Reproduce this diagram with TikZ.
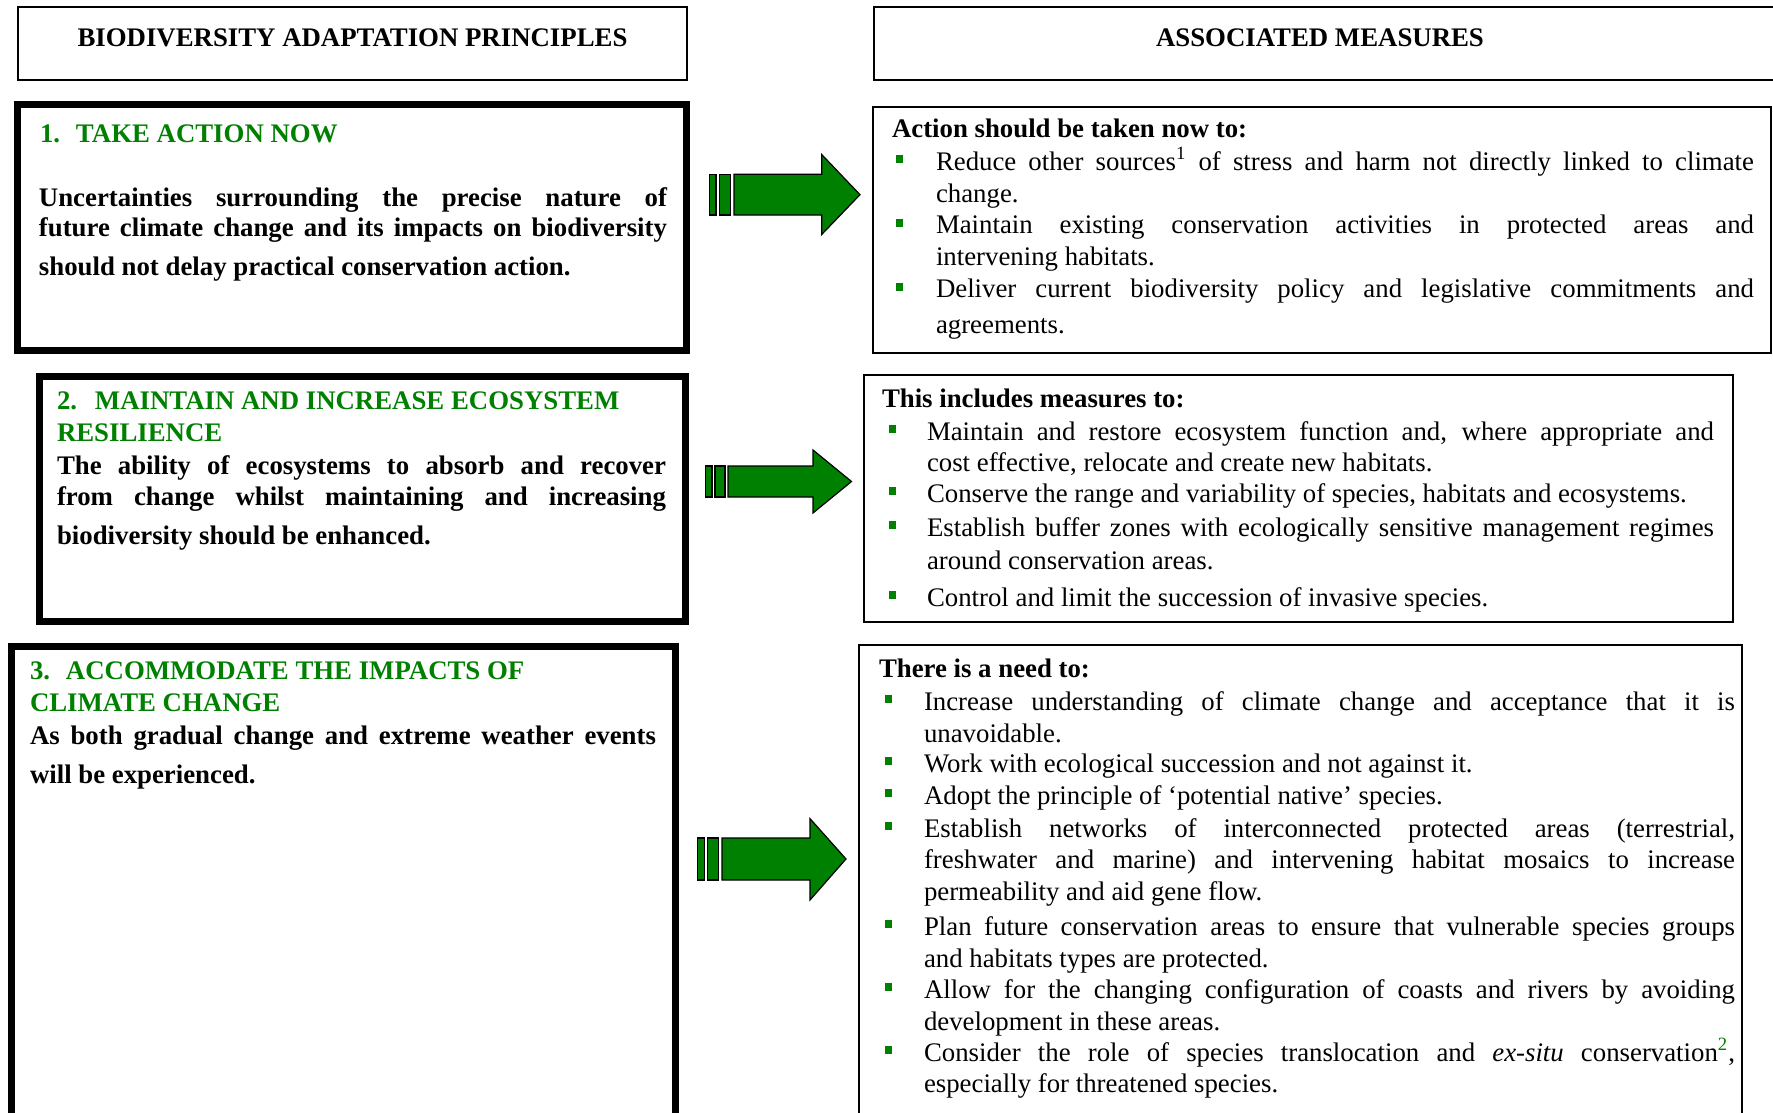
\documentclass[tikz,border=0pt]{standalone}
\usepackage{fontspec}
\setmainfont{Liberation Serif}
\definecolor{tgreen}{RGB}{0,128,0}
\tikzset{
  thinbox/.style={draw=black, line width=1pt, rectangle, inner sep=0pt, outer sep=0pt, anchor=north west},
  thickbox/.style={draw=black, line width=3.5pt, rectangle, inner sep=0pt, outer sep=0pt, anchor=north west},
  txt/.style={anchor=base west, inner sep=0pt, outer sep=0pt},
  gtxt/.style={txt, text=tgreen},
  ctxt/.style={anchor=base, inner sep=0pt, outer sep=0pt},
  bulnode/.style={fill=tgreen, rectangle, inner sep=0pt, outer sep=0pt, minimum width=3.5pt, minimum height=4pt},
  arrowpart/.style={draw=black, fill=tgreen, line width=0.6pt, line join=miter},
}
\newcommand\bodyfont[1]{\fontsize{13.4pt}{#1}\selectfont}
\newcommand\boldfont[1]{\bfseries\fontsize{13.4pt}{#1}\selectfont}
\newcommand\titlefont{\bfseries\fontsize{13.4pt}{16pt}\selectfont}
% \mkbox{style}{name}{x1}{y1}{x2}{y2}
\newcommand\mkbox[6]{\node[#1, minimum width={(#5-#3)*0.5pt}, minimum height={(#6-#4)*0.5pt}] (#2) at (#3,#4) {};}
\newcommand\bul[3]{\node[bulnode] (#1) at (#2,#3-11) {};}
\begin{document}
\begin{tikzpicture}[x=0.5pt,y=-0.5pt]
\useasboundingbox (0,0) rectangle (1773,1113);

% header boxes
\mkbox{thinbox}{hl}{18}{7}{687}{80}
\mkbox{thinbox}{hr}{874}{7}{1800}{80}
\node[ctxt] (hlt) at (352.5,47) {\boldfont{16pt}BIODIVERSITY ADAPTATION PRINCIPLES};
\node[ctxt] (hrt) at (1320,47) {\boldfont{16pt}ASSOCIATED MEASURES};

% left boxes
\mkbox{thickbox}{l1}{17.5}{104.5}{686.5}{350.5}
\mkbox{thickbox}{l2}{39}{376}{685}{621}
\mkbox{thickbox}{l3}{11}{646}{675}{1140}

% right boxes
\mkbox{thinbox}{r1}{873}{107}{1771}{353}
\mkbox{thinbox}{r2}{864}{375}{1733}{622}
\mkbox{thinbox}{r3}{859}{645}{1742}{1140}

% ---- box 1 left
\node[gtxt] (l1t) at (40,142) {\titlefont\makebox[18pt][l]{1.}TAKE ACTION NOW};
\node[txt] (l1b) at (39,206) {\parbox[t]{314pt}{\boldfont{15pt}Uncertainties surrounding the precise nature of\linebreak future climate change and its impacts on biodiversity\vadjust{\vskip 4.5pt}\linebreak should not delay practical conservation action.}};

% ---- box 2 left
\node[gtxt] (l2t) at (57,409) {\parbox[t]{320pt}{\raggedright\titlefont\makebox[19pt][l]{2.}MAINTAIN AND INCREASE ECOSYSTEM\\RESILIENCE}};
\node[txt] (l2b) at (57,474) {\parbox[t]{304.5pt}{\boldfont{15.5pt}The ability of ecosystems to absorb and recover\linebreak from change whilst maintaining and increasing\vadjust{\vskip 4pt}\linebreak biodiversity should be enhanced.}};

% ---- box 3 left
\node[gtxt] (l3t) at (30,679) {\parbox[t]{320pt}{\raggedright\titlefont\makebox[18pt][l]{3.}ACCOMMODATE THE IMPACTS OF\\CLIMATE CHANGE}};
\node[txt] (l3b) at (30,744) {\parbox[t]{313pt}{\boldfont{19.5pt}As both gradual change and extreme weather events\linebreak will be experienced.}};

% ---- box 1 right
\node[txt] (r1h) at (892,138) {\boldfont{16pt}Action should be taken now to:};
\bul{r1b1}{899.5}{170}
\node[txt] (r1i1) at (936,170) {\parbox[t]{409pt}{\bodyfont{16pt}Reduce other sources\textsuperscript{1} of stress and harm not directly linked to climate\linebreak change.}};
\bul{r1b2}{899.5}{234}
\node[txt] (r1i2) at (936,234) {\parbox[t]{409pt}{\bodyfont{16pt}Maintain existing conservation activities in protected areas and\linebreak intervening habitats.}};
\bul{r1b3}{899.5}{297.5}
\node[txt] (r1i3) at (936,297.5) {\parbox[t]{409pt}{\bodyfont{18pt}Deliver current biodiversity policy and legislative commitments and\linebreak agreements.}};

% ---- box 2 right
\node[txt] (r2h) at (882,407) {\boldfont{16pt}This includes measures to:};
\bul{r2b1}{892.5}{440}
\node[txt] (r2i1) at (927,440) {\parbox[t]{393.5pt}{\bodyfont{15.8pt}Maintain and restore ecosystem function and, where appropriate and\linebreak cost effective, relocate and create new habitats.}};
\bul{r2b2}{892.5}{502}
\node[txt] (r2i2) at (927,502) {\parbox[t]{393.5pt}{\bodyfont{16pt}Conserve the range and variability of species, habitats and ecosystems.}};
\bul{r2b3}{892.5}{536}
\node[txt] (r2i3) at (927,536) {\parbox[t]{393.5pt}{\bodyfont{16.5pt}Establish buffer zones with ecologically sensitive management regimes\linebreak around conservation areas.}};
\bul{r2b4}{892.5}{606}
\node[txt] (r2i4) at (927,606) {\parbox[t]{393.5pt}{\bodyfont{16pt}Control and limit the succession of invasive species.}};

% ---- box 3 right
\node[txt] (r3h) at (879,677) {\boldfont{16pt}There is a need to:};
\bul{r3b1}{888.5}{710}
\node[txt] (r3i1) at (924,710) {\parbox[t]{405.5pt}{\bodyfont{16pt}Increase understanding of climate change and acceptance that it is\linebreak unavoidable.}};
\bul{r3b2}{888.5}{772}
\node[txt] (r3i2) at (924,772) {\parbox[t]{405.5pt}{\bodyfont{16pt}Work with ecological succession and not against it.}};
\bul{r3b3}{888.5}{804}
\node[txt] (r3i3) at (924,804) {\parbox[t]{405.5pt}{\bodyfont{16pt}Adopt the principle of ‘potential native’ species.}};
\bul{r3b4}{888.5}{837}
\node[txt] (r3i4) at (924,837) {\parbox[t]{405.5pt}{\bodyfont{15.75pt}Establish networks of interconnected protected areas (terrestrial,\linebreak freshwater and marine) and intervening habitat mosaics to increase\linebreak permeability and aid gene flow.}};
\bul{r3b5}{888.5}{935}
\node[txt] (r3i5) at (924,935) {\parbox[t]{405.5pt}{\bodyfont{16pt}Plan future conservation areas to ensure that vulnerable species groups\linebreak and habitats types are protected.}};
\bul{r3b6}{888.5}{998}
\node[txt] (r3i6) at (924,998) {\parbox[t]{405.5pt}{\bodyfont{16pt}Allow for the changing configuration of coasts and rivers by avoiding\linebreak development in these areas.}};
\bul{r3b7}{888.5}{1061}
\node[txt] (r3i7) at (924,1061) {\parbox[t]{405.5pt}{\bodyfont{15.5pt}Consider the role of species translocation and \emph{ex-situ} conservation\textsuperscript{\color{tgreen}2},\linebreak especially for threatened species.}};

% ---- arrows
% arrow 1
\draw[arrowpart] (709.3,174.3) rectangle (716,215);
\draw[arrowpart] (719.3,174.3) rectangle (730.7,215);
\draw[arrowpart] (734,174.3) -- (821.7,174.3) -- (821.7,154.5) -- (860,194.7) -- (821.7,234.5) -- (821.7,215) -- (734,215) -- cycle;
% arrow 2
\draw[arrowpart] (705.5,466) rectangle (712,497);
\draw[arrowpart] (715,466) rectangle (725,497);
\draw[arrowpart] (728,466) -- (813,466) -- (813,450) -- (851.5,481.5) -- (813,513) -- (813,497) -- (728,497) -- cycle;
% arrow 3
\draw[arrowpart] (697.6,838) rectangle (704.5,880);
\draw[arrowpart] (707.5,838) rectangle (718.5,880);
\draw[arrowpart] (722,838) -- (810,838) -- (810,818.6) -- (846,859) -- (810,900) -- (810,880) -- (722,880) -- cycle;
\end{tikzpicture}
\end{document}
